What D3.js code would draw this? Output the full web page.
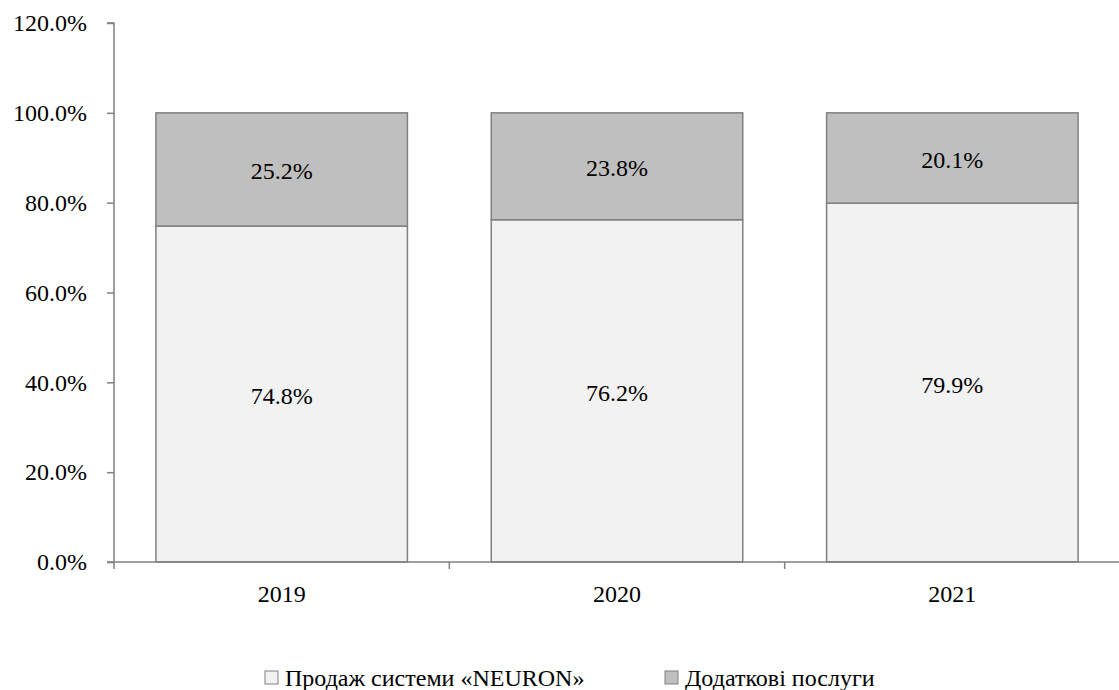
<!DOCTYPE html>
<html>
<head>
<meta charset="utf-8">
<script src="https://cdn.jsdelivr.net/npm/d3@7"></script>
<style>
  html, body { margin: 0; padding: 0; background: #ffffff; }
  svg text { font-family: "Liberation Serif", "Times New Roman", Times, serif; }
</style>
</head>
<body>
<svg id="chart" width="1119" height="690"></svg>
<script>
// Revenue structure by year, percent
const years = ["2019", "2020", "2021"];
const systemSales = [74.8, 76.2, 79.9];
const extraServices = [25.2, 23.8, 20.1];
const seriesNames = ["Продаж системи «NEURON»", "Додаткові послуги"];
const yTicks = [0, 20, 40, 60, 80, 100, 120];

const colors = ["#f2f2f2", "#bfbfbf"];
const strokeColor = "#808080";
const fontSize = 24;
const fontFamily = "Liberation Serif, Times New Roman, Times, serif";

const svg = d3.select("#chart");
const margin = { left: 114, right: 0, top: 23, bottom: 128 };
const W = 1119, H = 690;
const plotBottom = H - margin.bottom; // 562

const x = d3.scaleBand().domain(years).range([margin.left, 1120]).padding(0);
const y = d3.scaleLinear().domain([0, 120]).range([plotBottom, margin.top]);

const barW = x.bandwidth() * 0.75;

// stack the two series
const rows = years.map((yr, i) => ({ year: yr, s0: systemSales[i], s1: extraServices[i] }));
const stack = d3.stack().keys(["s0", "s1"])(rows);

const gBars = svg.append("g");
stack.forEach((layer, li) => {
  gBars.selectAll(null)
    .data(layer)
    .enter()
    .append("rect")
    .attr("x", d => x(d.data.year) + (x.bandwidth() - barW) / 2)
    .attr("y", d => y(d[1]))
    .attr("width", barW)
    .attr("height", d => y(d[0]) - y(d[1]))
    .attr("fill", colors[li])
    .attr("stroke", strokeColor)
    .attr("stroke-width", 1.5);
});

// value labels
stack.forEach((layer, li) => {
  svg.append("g").selectAll(null)
    .data(layer)
    .enter()
    .append("text")
    .attr("x", d => x(d.data.year) + x.bandwidth() / 2)
    .attr("y", d => (y(d[0]) + y(d[1])) / 2 + 2)
    .attr("text-anchor", "middle")
    .attr("dominant-baseline", "central")
    .attr("fill", "#000")
    .style("font-family", fontFamily)
    .style("font-size", fontSize + "px")
    .text(d => (d[1] - d[0]).toFixed(1) + "%");
});

// y axis
const yAxis = d3.axisLeft(y).tickValues(yTicks).tickSize(7).tickPadding(20)
  .tickFormat(d => d.toFixed(1) + "%");
const gy = svg.append("g").attr("transform", `translate(${margin.left},0)`).call(yAxis);
gy.select(".domain").attr("stroke", strokeColor).attr("stroke-width", 1.5)
  .attr("d", `M${-7},${y(120)}H0V${plotBottom}`);
gy.selectAll(".tick line").attr("stroke", strokeColor).attr("stroke-width", 1.5);
gy.selectAll(".tick text")
  .style("font-family", fontFamily)
  .style("font-size", fontSize + "px")
  .attr("fill", "#000");

// x axis: line along the baseline with ticks at band boundaries
const gx = svg.append("g");
gx.append("line")
  .attr("x1", margin.left - 7).attr("x2", W)
  .attr("y1", plotBottom).attr("y2", plotBottom)
  .attr("stroke", strokeColor).attr("stroke-width", 1.5);
const boundaries = years.map(yr => x(yr)).concat([x(years[years.length - 1]) + x.bandwidth()]);
gx.selectAll(null).data(boundaries).enter().append("line")
  .attr("x1", d => d).attr("x2", d => d)
  .attr("y1", plotBottom).attr("y2", plotBottom + 7)
  .attr("stroke", strokeColor).attr("stroke-width", 1.5);
gx.selectAll(null).data(years).enter().append("text")
  .attr("x", d => x(d) + x.bandwidth() / 2)
  .attr("y", plotBottom + 40)
  .attr("text-anchor", "middle")
  .attr("fill", "#000")
  .style("font-family", fontFamily)
  .style("font-size", fontSize + "px")
  .text(d => d);

// legend
const legendItems = [
  { name: seriesNames[0], color: colors[0], x: 265 },
  { name: seriesNames[1], color: colors[1], x: 665 }
];
const lg = svg.append("g");
legendItems.forEach(it => {
  lg.append("rect")
    .attr("x", it.x).attr("y", 671)
    .attr("width", 13).attr("height", 13)
    .attr("fill", it.color)
    .attr("stroke", strokeColor).attr("stroke-width", 1);
  lg.append("text")
    .attr("x", it.x + 20).attr("y", 686)
    .attr("fill", "#000")
    .style("font-family", fontFamily)
    .style("font-size", fontSize + "px")
    .text(it.name);
});
</script>
</body>
</html>
